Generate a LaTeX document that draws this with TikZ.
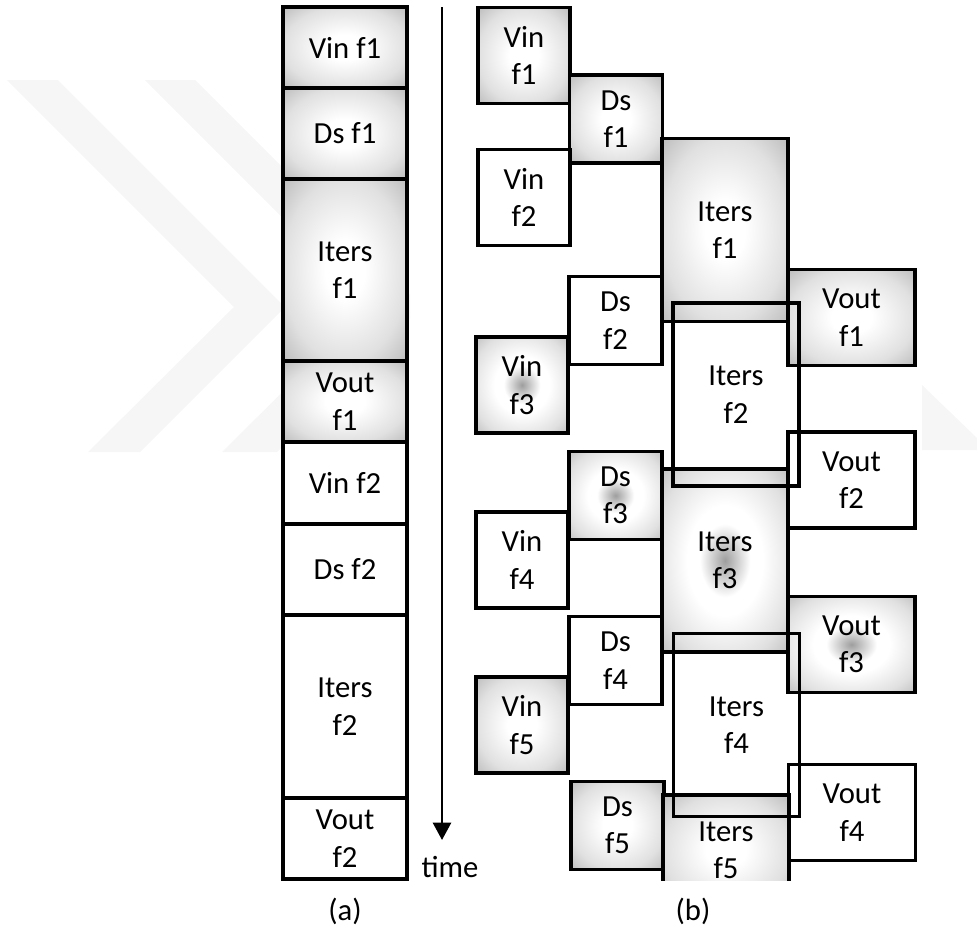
\documentclass[tikz,border=0pt]{standalone}
\usepackage{fontspec}
\setmainfont{Carlito}
\usetikzlibrary{arrows.meta,positioning}
\pgfdeclareradialshading{boxglow}{\pgfpoint{0bp}{0bp}}{color(0bp)=(white); color(8bp)=(white); color(25bp)=(black!12); color(37bp)=(black!28); color(50bp)=(black!45)}
\pgfdeclareradialshading{boxcore}{\pgfpoint{0bp}{0bp}}{color(0bp)=(black!38); color(10bp)=(white); color(15bp)=(white); color(28bp)=(black!12); color(38bp)=(black!28); color(50bp)=(black!45)}
\tikzset{
  Tbox/.style={draw, line width=2.5pt, inner sep=0pt, outer sep=0pt, align=center,
               font=\fontsize{23}{28}\selectfont},
  ColBox/.style={Tbox, minimum width=93pt},
  VinBox/.style={Tbox, minimum width=69pt, minimum height=72pt},
  DsBox/.style={Tbox, minimum width=69.75pt, minimum height=66pt},
  ItBox/.style={Tbox, minimum width=94.5pt, minimum height=137.25pt},
  VoutBox/.style={Tbox, minimum width=95.25pt, minimum height=72pt},
  Glow/.style={shading=boxglow},
  Core/.style={shading=boxcore},
  Blank/.style={fill=white},
  Hollow/.style={fill=none},
  Wmark/.style={fill=gray!7, draw=none},
  Tarr/.style={-{Triangle[width=13.5pt,length=13pt]}, line width=2pt},
  Cap/.style={font=\fontsize{23}{28}\selectfont, inner sep=0pt, anchor=base}
}
\begin{document}
\begin{tikzpicture}[x=0.75pt, y=-0.75pt]
  \useasboundingbox (0,0) rectangle (977,932);
  % faint background marks
  \begin{scope}
    \clip (0,0) rectangle (410,932);
    \fill[Wmark] (7,80) -- (58,80) -- (285,307) -- (140,452) -- (88,452) -- (234,307) -- cycle;
    \fill[Wmark] (145,80) -- (195,80) -- (422,307) -- (277,452) -- (222,452) -- (370,305) -- cycle;
  \end{scope}
  \fill[Wmark] (922,385) -- (977,438) -- (977,450) -- (922,450) -- cycle;

  % (a) one frame after the other
  \node[ColBox, Glow, minimum height=60.75pt] (a1) at (345,47.5) {Vin f1};
  \node[ColBox, Glow, minimum height=68.25pt, below=0pt of a1] (a2) {Ds f1};
  \node[ColBox, Glow, minimum height=136.5pt, below=0pt of a2] (a3) {Iters\\f1};
  \node[ColBox, Glow, minimum height=60.75pt, below=0pt of a3] (a4) {Vout\\f1};
  \node[ColBox, Blank, minimum height=61.5pt, below=0pt of a4] (a5) {Vin f2};
  \node[ColBox, Blank, minimum height=68.25pt, below=0pt of a5] (a6) {Ds f2};
  \node[ColBox, Blank, minimum height=137.25pt, below=0pt of a6] (a7) {Iters\\f2};
  \node[ColBox, Blank, minimum height=60.75pt, below=0pt of a7] (a8) {Vout\\f2};

  % time axis
  \coordinate (t0) at (442,7);
  \coordinate (t1) at (442,840);
  \draw[Tarr] (t0) -- (t1);
  \node[Cap] (tlab) at (450,877) {time};

  % (b) overlapped frames
  \node[VinBox, Glow] (b-vin1) at (524,55.5) {Vin\\f1};
  \node[DsBox, Glow] (b-ds1) at (616,119) {Ds\\f1};
  \node[VinBox, Blank] (b-vin2) at (524,197.5) {Vin\\f2};
  \node[ItBox, Glow] (b-it1) at (725,230) {Iters\\f1};
  \node[DsBox, Blank] (b-ds2) at (615.5,320.5) {Ds\\f2};
  \node[VinBox, Core] (b-vin3) at (522,385) {Vin\\f3};
  \node[VoutBox, Glow] (b-vo1) at (851.5,317.5) {Vout\\f1};
  \node[VoutBox, Blank] (b-vo2) at (851.5,480) {Vout\\f2};
  \node[DsBox, Core] (b-ds3) at (615.5,495.5) {Ds\\f3};
  \node[ItBox, Core] (b-it3) at (725,560.5) {Iters\\f3};
  \node[VinBox, Blank] (b-vin4) at (522,560) {Vin\\f4};
  \node[VoutBox, Core] (b-vo3) at (851.5,644.5) {Vout\\f3};
  \node[DsBox, Blank] (b-ds4) at (615.5,660.5) {Ds\\f4};
  \node[VinBox, Glow] (b-vin5) at (522,725) {Vin\\f5};
  \node[VoutBox, Blank] (b-vo4) at (852,812.5) {Vout\\f4};
  \node[DsBox, Glow] (b-ds5) at (617.5,825.5) {Ds\\f5};
  \begin{scope}
    \clip (600,780) rectangle (800,880);
    \node[ItBox, Glow, minimum height=82.5pt] (b-it5) at (726,850) {Iters\\f5};
  \end{scope}
  \node[ItBox, Hollow] (b-it2) at (736,394.5) {Iters\\f2};
  \node[ItBox, Hollow] (b-it4) at (736.5,725) {Iters\\f4};

  % captions
  \node[Cap] (cap-a) at (345,920) {(a)};
  \node[Cap] (cap-b) at (693,920) {(b)};
\end{tikzpicture}
\end{document}
